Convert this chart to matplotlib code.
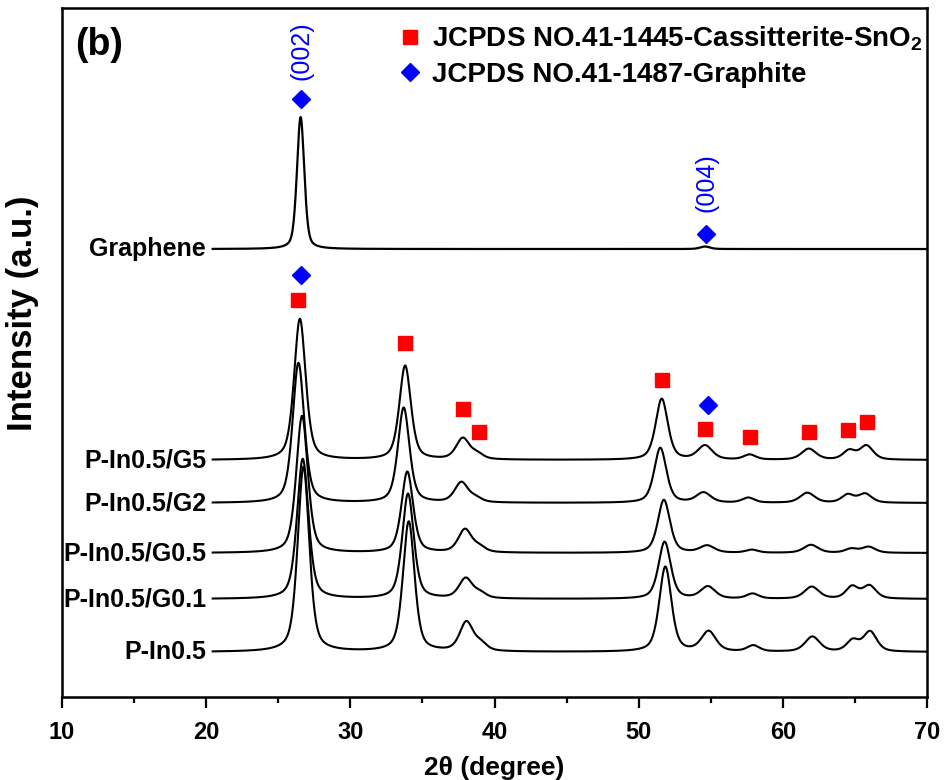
import numpy as np
import matplotlib.pyplot as plt
from matplotlib.lines import Line2D

plt.rcParams['font.family'] = ['Liberation Sans', 'DejaVu Sans']
plt.rcParams['font.weight'] = 'bold'
plt.rcParams['mathtext.fontset'] = 'custom'
plt.rcParams['mathtext.rm'] = 'Liberation Sans:bold'
plt.rcParams['mathtext.bf'] = 'Liberation Sans:bold'
plt.rcParams['mathtext.it'] = 'Liberation Sans:bold'

# ---- data ----
two_theta = np.linspace(20.45, 70, 2400)

# SnO2 reflections (deg), heights per sample, widths (FWHM, deg)
sno2_pos = [26.6, 33.9, 37.9, 38.9, 51.7, 54.7, 57.8, 61.9, 64.7, 65.9]
sno2_fwhm = [0.95, 0.95, 1.1, 1.0, 1.0, 1.2, 1.0, 1.2, 1.0, 1.1]

samples = ['P-In0.5/G5', 'P-In0.5/G2', 'P-In0.5/G0.5', 'P-In0.5/G0.1', 'P-In0.5']
sample_offset = [237, 194, 144, 98, 45]
sample_shift = [-0.1, -0.2, 0.05, 0.1, 0.15]
sample_heights = [
    [141, 94, 21, 5, 61, 14, 5, 11, 9, 14],
    [140, 95, 20, 4, 55, 10, 5, 10, 8, 9],
    [137, 81, 23, 5, 53, 7, 3, 8, 4, 6],
    [140, 105, 20, 5, 57, 12, 5, 12, 12, 13],
    [185, 130, 29, 7, 85, 20, 6, 15, 11, 20],
]

graphene_pos = [26.55, 54.6]
graphene_heights = [132, 2.5]
graphene_fwhm = [0.6, 0.8]
graphene_offset = 448

# reference marks (2theta, vertical position)
sno2_mark_x = [26.4, 33.8, 37.8, 38.9, 51.6, 54.6, 57.75, 61.8, 64.5, 65.85]
sno2_mark_y = [397, 354, 288, 265, 317, 268, 260, 265, 267, 275]
graphite_mark_x = [26.6, 26.6, 54.7, 54.8]
graphite_mark_y = [598, 422, 463, 292]
hkl_labels = ['(002)', '(004)']
hkl_x = [26.6, 54.7]
hkl_y = [646, 514]


def pattern(pos, heights, fwhm, shift=0.0, eta=0.5):
    y = np.zeros_like(two_theta)
    for p, h, w in zip(pos, heights, fwhm):
        d = two_theta - (p + shift)
        g = np.exp(-4 * np.log(2) * d**2 / w**2)
        lo = 1.0 / (1 + 4 * d**2 / w**2)
        y += h * (eta * lo + (1 - eta) * g)
    return y


fig = plt.figure(figsize=(9.44, 7.80), dpi=100)
ax = fig.add_axes([0.0657, 0.1064, 0.9163, 0.8833])

ax.plot(two_theta, graphene_offset + pattern(graphene_pos, graphene_heights, graphene_fwhm, eta=0.4),
        color='black', lw=1.6)
ax.text(20.0, graphene_offset, 'Graphene', ha='right', va='center', fontsize=18, fontweight='bold')

for name, off, sh, hs in zip(samples, sample_offset, sample_shift, sample_heights):
    ax.plot(two_theta, off + pattern(sno2_pos, hs, sno2_fwhm, shift=sh), color='black', lw=1.5)
    ax.text(20.0, off, name, ha='right', va='center', fontsize=18, fontweight='bold')

ax.plot(sno2_mark_x, sno2_mark_y, 's', color='#ff0000', ms=10, ls='none')
ax.plot(graphite_mark_x, graphite_mark_y, 'D', color='#0000ff', ms=9.5, ls='none')
for lab, x, y in zip(hkl_labels, hkl_x, hkl_y):
    ax.text(x, y, lab, rotation=90, ha='center', va='center', color='#0000ff',
            fontsize=18, fontweight='normal')

ax.text(0.015, 0.972, '(b)', transform=ax.transAxes, ha='left', va='top', fontsize=27, fontweight='bold')

handles = [Line2D([], [], marker='s', color='#ff0000', ls='none', ms=10),
           Line2D([], [], marker='D', color='#0000ff', ls='none', ms=9.5)]
ax.legend(handles, ['JCPDS NO.41-1445-Cassitterite-SnO$_2$', 'JCPDS NO.41-1487-Graphite'],
          loc='upper left', bbox_to_anchor=(0.372, 1.0), frameon=False,
          prop={'size': 20, 'weight': 'bold'}, handlelength=0.7, handletextpad=0.45,
          labelspacing=0.3, borderaxespad=0.2)

ax.set_xlim(10, 70)
ax.set_ylim(0, 689)
ax.set_xticks(np.arange(10, 71, 10))
ax.set_xticks(np.arange(15, 70, 10), minor=True)
ax.set_yticks([])
ax.tick_params(axis='x', which='major', direction='out', length=8, width=1.6, labelsize=17, pad=9)
ax.tick_params(axis='x', which='minor', direction='out', length=4.5, width=1.6)
for lab in ax.get_xticklabels():
    lab.set_fontweight('bold')
for s in ax.spines.values():
    s.set_linewidth(1.8)

ax.set_xlabel('2\u03b8 (degree)', fontsize=19, fontweight='bold', labelpad=9)
ax.set_ylabel('Intensity (a.u.)', fontsize=25, fontweight='bold')
ax.yaxis.set_label_coords(-0.027, 0.557)

fig.savefig('out.png', dpi=100)
